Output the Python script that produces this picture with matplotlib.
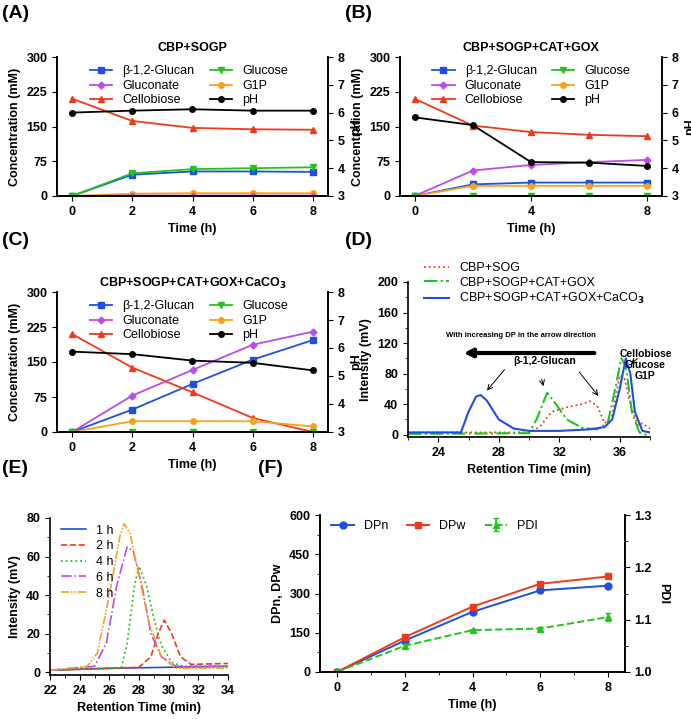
import matplotlib
matplotlib.use("Agg")
import matplotlib.pyplot as plt
import numpy as np

plt.rcParams['font.family'] = ['Liberation Sans', 'DejaVu Sans']
plt.rcParams['font.size'] = 9
plt.rcParams['font.weight'] = 'bold'
plt.rcParams['axes.linewidth'] = 1.2

t = [0, 2, 4, 6, 8]
A_glucan = [0, 46, 53, 53, 52]
A_cello = [210, 162, 147, 144, 143]
A_g1p = [0, 5, 6, 6, 6]
A_gluconate = [0, 1, 1, 1, 1]
A_glucose = [0, 49, 58, 60, 62]
A_ph = [6.0, 6.07, 6.12, 6.07, 6.07]

B_glucan = [0, 25, 29, 29, 29]
B_cello = [210, 152, 138, 132, 129]
B_g1p = [0, 22, 22, 22, 22]
B_gluconate = [0, 55, 67, 73, 78]
B_glucose = [0, 0, 0, 0, 0]
B_ph = [5.83, 5.55, 4.22, 4.2, 4.08]

C_glucan = [0, 48, 103, 155, 197]
C_cello = [210, 138, 85, 30, 0]
C_g1p = [0, 23, 23, 23, 12]
C_gluconate = [0, 78, 133, 187, 215]
C_glucose = [0, 0, 0, 0, 0]
C_ph = [5.87, 5.78, 5.55, 5.47, 5.2]

D_blue_x = [22, 25.5, 26, 26.5, 26.8, 27.2, 28, 29, 30, 32, 34, 35, 35.5, 36, 36.4, 36.7, 37, 37.5, 38]
D_blue_y = [3, 3, 30, 50, 52, 45, 20, 8, 5, 5, 7, 10, 20, 60, 100, 80, 30, 5, 3]
D_green_x = [22, 30, 30.5, 31.2, 31.6, 32.5, 33.5, 34.5, 35.2, 35.7, 36.1, 36.4, 36.8, 37.3, 38]
D_green_y = [1, 2, 20, 55, 45, 20, 9, 7, 15, 60, 100, 90, 30, 3, -2]
D_red_x = [22, 30, 30.7, 31.5, 32.5, 33.5, 34, 34.5, 35, 35.5, 36, 36.3, 36.7, 37.2, 37.5, 38]
D_red_y = [3, 3, 10, 30, 36, 40, 44, 38, 15, 25, 78, 75, 40, 12, 15, 8]

E_1h_x = [22, 26, 30, 34]; E_1h_y = [1, 2, 2.5, 3]
E_2h_x = [22, 28, 28.8, 29.3, 29.7, 30.2, 30.8, 31.5, 34]; E_2h_y = [1, 2.5, 8, 20, 27, 20, 8, 4, 4.5]
E_4h_x = [22, 26.8, 27.2, 27.7, 28, 28.5, 29, 29.5, 30.2, 31, 34]; E_4h_y = [1, 2, 15, 45, 55, 45, 28, 14, 5, 3, 3]
E_6h_x = [22, 25, 25.8, 26.5, 27.2, 27.6, 28.2, 28.8, 29.5, 30.5, 34]; E_6h_y = [1, 3, 15, 45, 65, 63, 45, 20, 8, 3, 3]
E_8h_x = [22, 24.5, 25.2, 26, 26.7, 27, 27.4, 28, 28.7, 29.5, 30.5, 34]; E_8h_y = [1, 3, 10, 40, 70, 77, 72, 50, 25, 8, 2, 2]

F_dpn = [0, 120, 230, 312, 330]
F_dpw = [0, 133, 250, 337, 365]
F_pdi = [1.0, 1.05, 1.08, 1.083, 1.105]

blue = '#1f4fe0'; red = '#ee3a1a'; orange = '#f7a21b'; purple = '#b84ee8'; green = '#22c41c'

fig = plt.figure(figsize=(6.91, 7.19), dpi=100)
W, H = 691, 719
def ax_px(l, t_, r, b):
    return fig.add_axes([l / W, 1 - b / H, (r - l) / W, (b - t_) / H])

def conc_panel(box, title, gl, ce, g1, gn, gc, ph, xt):
    ax = ax_px(*box)
    ax.plot(t, gl, '-s', color=blue, ms=4, lw=1.3, label='β-1,2-Glucan')
    ax.plot(t, ce, '-^', color=red, ms=4, lw=1.3, label='Cellobiose')
    ax.plot(t, g1, '-o', color=orange, ms=4, lw=1.3, label='G1P')
    ax.plot(t, gn, '-D', color=purple, ms=3.5, lw=1.3, label='Gluconate')
    ax.plot(t, gc, '-v', color=green, ms=4, lw=1.3, label='Glucose')
    ax2 = ax.twinx()
    ax2.plot(t, ph, '-o', color='black', ms=4, lw=1.3, label='pH')
    ax.set_ylim(0, 300); ax.set_yticks([0, 75, 150, 225, 300])
    ax2.set_ylim(3, 8); ax2.set_yticks(range(3, 9))
    ax.set_xlim(-0.5, 8.5); ax.set_xticks(xt)
    ax.set_ylabel('Concentration (mM)', fontweight='bold')
    ax2.set_ylabel('pH', fontweight='bold')
    ax.set_xlabel('Time (h)', fontweight='bold')
    ax.set_title(title, fontweight='bold', fontsize=9, pad=4)
    for a in (ax, ax2):
        a.spines['top'].set_visible(False)
    h1, l1 = ax.get_legend_handles_labels(); h2, l2 = ax2.get_legend_handles_labels()
    hs = h1 + h2; ls = l1 + l2
    order = [0, 3, 1, 4, 2, 5]
    ax.legend([hs[i] for i in order], [ls[i] for i in order], ncol=2, frameon=False,
              loc='upper left', bbox_to_anchor=(0.08, 1.02), handlelength=1.8,
              columnspacing=1.2, labelspacing=0.2, prop={'weight': 'normal', 'size': 9})
    return ax

conc_panel((57, 57, 328, 196), 'CBP+SOGP', A_glucan, A_cello, A_g1p, A_gluconate, A_glucose, A_ph, [0, 2, 4, 6, 8])
conc_panel((400, 57, 662, 196), 'CBP+SOGP+CAT+GOX', B_glucan, B_cello, B_g1p, B_gluconate, B_glucose, B_ph, [0, 4, 8])
conc_panel((57, 292, 328, 432), 'CBP+SOGP+CAT+GOX+CaCO$_\\mathbf{3}$', C_glucan, C_cello, C_g1p, C_gluconate, C_glucose, C_ph, [0, 2, 4, 6, 8])

# D
ax = ax_px(408, 282, 650, 437)
ax.plot(D_red_x, D_red_y, ':', color=red, lw=1.3, label='CBP+SOG')
ax.plot(D_green_x, D_green_y, '-.', color=green, lw=1.5, label='CBP+SOGP+CAT+GOX')
ax.plot(D_blue_x, D_blue_y, '-', color=blue, lw=1.5, label='CBP+SOGP+CAT+GOX+CaCO$_3$')
ax.set_xlim(22, 38); ax.set_ylim(-3, 200)
ax.set_xticks([24, 28, 32, 36]); ax.set_yticks(range(0, 201, 40))
ax.set_yticks(range(0, 201, 20), minor=True); ax.set_xticks(range(22, 39, 2), minor=True)
ax.spines['top'].set_visible(False); ax.spines['right'].set_visible(False)
ax.set_xlabel('Retention Time (min)', fontweight='bold'); ax.set_ylabel('Intensity (mV)', fontweight='bold')
ax.legend(frameon=False, loc='upper left', bbox_to_anchor=(0.02, 1.2), prop={'weight': 'normal', 'size': 9},
          labelspacing=0.2, handlelength=2)
ax.text(29.5, 128, 'With increasing DP in the arrow direction', fontsize=5.5, ha='center')
ax.annotate('', xy=(25.5, 107), xytext=(34.5, 107), arrowprops=dict(arrowstyle='-|>', lw=3, color='black', mutation_scale=12))
ax.text(31, 92, 'β-1,2-Glucan', fontsize=7.5, ha='center')
for (x0, y0, x1, y1) in [(28.5, 88, 27.1, 55), (30.8, 76, 31, 60), (33.2, 85, 34.7, 48)]:
    ax.annotate('', xy=(x1, y1), xytext=(x0, y0), arrowprops=dict(arrowstyle='->', lw=0.7))
ax.text(37.7, 112, 'Cellobiose\nGlucose\nG1P', fontsize=7.5, ha='center', va='top', linespacing=1.1)
ax.annotate('', xy=(36.6, 90), xytext=(37.3, 102), arrowprops=dict(arrowstyle='->', lw=0.7))

# E
ax = ax_px(50, 518, 228, 675)
ax.plot(E_1h_x, E_1h_y, '-', color=blue, lw=1.2, label='1 h')
ax.plot(E_2h_x, E_2h_y, '--', color=red, lw=1.2, label='2 h')
ax.plot(E_4h_x, E_4h_y, ':', color=green, lw=1.3, label='4 h')
ax.plot(E_6h_x, E_6h_y, '-.', color=purple, lw=1.2, label='6 h')
ax.plot(E_8h_x, E_8h_y, linestyle=(0, (5, 1, 1, 1, 1, 1)), color=orange, lw=1.2, label='8 h')
ax.set_xlim(22, 34); ax.set_ylim(-1.5, 80)
ax.set_xticks(range(22, 35, 2)); ax.set_yticks(range(0, 81, 20))
ax.set_xticks(np.arange(22, 34.1, 1), minor=True); ax.set_yticks(range(0, 81, 10), minor=True)
ax.spines['top'].set_visible(False); ax.spines['right'].set_visible(False)
ax.set_xlabel('Retention Time (min)', fontweight='bold'); ax.set_ylabel('Intensity (mV)', fontweight='bold')
ax.legend(frameon=False, loc='upper left', bbox_to_anchor=(0.0, 1.03), prop={'weight': 'normal', 'size': 9},
          labelspacing=0.3, handlelength=2)

# F
ax = ax_px(320, 515, 625, 672)
ax.plot(t, F_dpn, '-o', color=blue, ms=5, lw=1.4, label='DPn')
ax.plot(t, F_dpw, '-s', color=red, ms=5, lw=1.4, label='DPw')
ax2 = ax.twinx()
ax2.errorbar(t, F_pdi, yerr=[0, 0.004, 0.003, 0.003, 0.008], fmt='--^', color=green, ms=5, lw=1.4, capsize=2, label='PDI')
ax.set_xlim(-0.5, 8.5); ax.set_ylim(0, 600); ax.set_yticks([0, 150, 300, 450, 600])
ax.set_xticks([0, 2, 4, 6, 8]); ax.set_xticks(range(0, 9), minor=True)
ax2.set_ylim(1.0, 1.3); ax2.set_yticks([1.0, 1.1, 1.2, 1.3]); ax2.set_yticks(np.arange(1.0, 1.31, 0.05), minor=True)
ax.set_yticks(range(0, 601, 75), minor=True)
for a in (ax, ax2):
    a.spines['top'].set_visible(False)
ax.set_xlabel('Time (h)', fontweight='bold'); ax.set_ylabel('DPn, DPw', fontweight='bold')
ax2.set_ylabel('PDI', fontweight='bold', rotation=270, labelpad=12)
h1, l1 = ax.get_legend_handles_labels(); h2, l2 = ax2.get_legend_handles_labels()
ax.legend(h1 + h2, l1 + l2, ncol=3, frameon=False, loc='upper left', bbox_to_anchor=(0.0, 1.04),
          prop={'weight': 'normal', 'size': 9}, handlelength=1.8, columnspacing=1.5)

for lbl, x, y in [('(A)', 2, 5), ('(B)', 345, 5), ('(C)', 2, 232), ('(D)', 345, 232), ('(E)', 2, 460), ('(F)', 258, 460)]:
    fig.text(x / W, 1 - y / H, lbl, fontsize=14, fontweight='bold', va='top')

fig.savefig('out.png', dpi=100)
